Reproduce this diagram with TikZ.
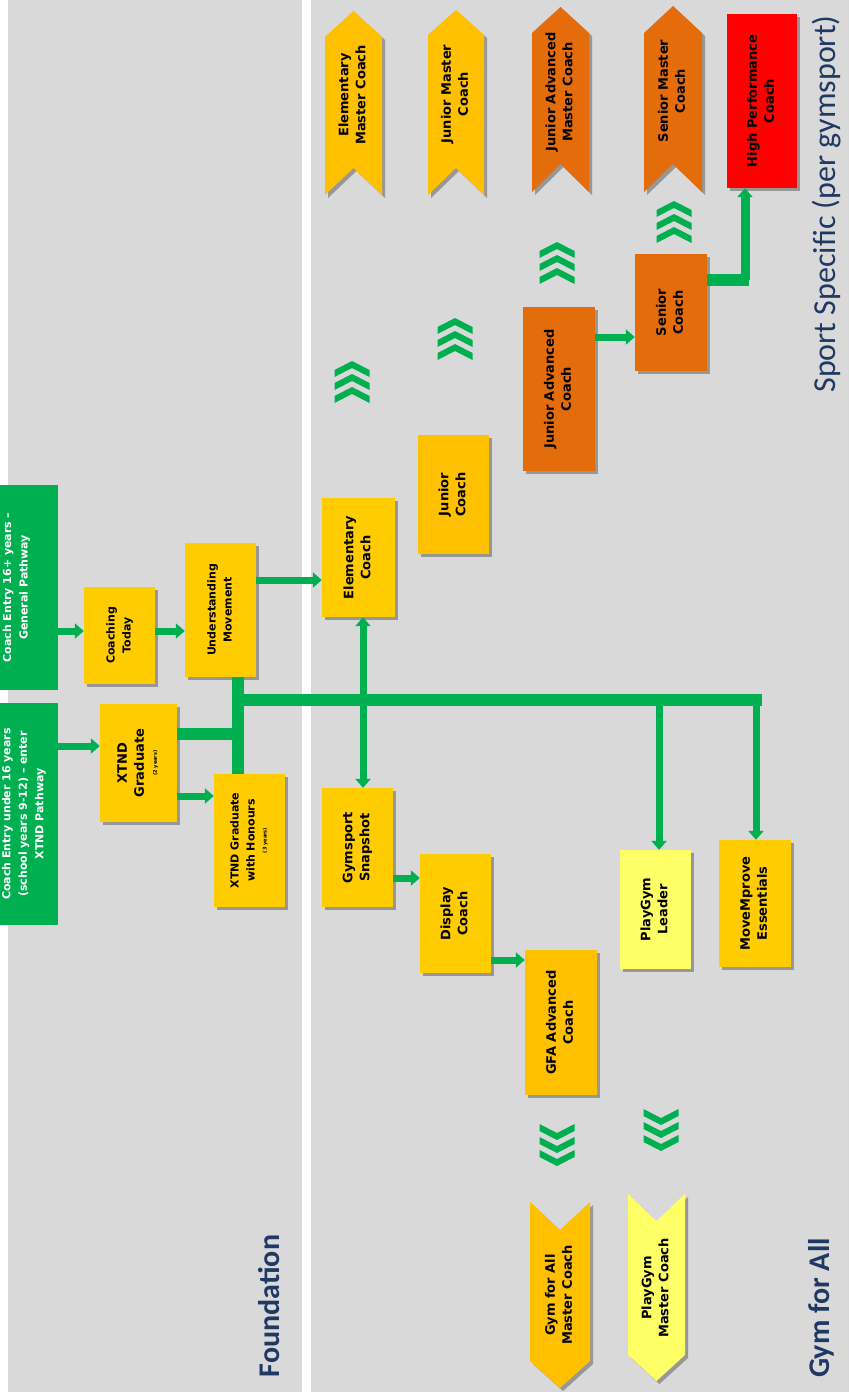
\documentclass[tikz,border=0pt]{standalone}
\usepackage{fontspec}
\setmainfont{DejaVu Sans}
\newfontfamily\titlefont{Carlito}
\usetikzlibrary{arrows.meta,shadows}
\definecolor{panel}{HTML}{D9D9D9}
\definecolor{gold}{HTML}{FFCC00}
\definecolor{amber}{HTML}{FFC000}
\definecolor{orng}{HTML}{E46C0A}
\definecolor{lyel}{HTML}{FFFF66}
\definecolor{hpred}{HTML}{FF0000}
\definecolor{grn}{HTML}{00B050}
\definecolor{navy}{HTML}{1F3864}
\newcommand\rt[1]{\rotatebox{90}{\begin{tabular}{@{}c@{}}#1\end{tabular}}}
\newcommand\yrs[1]{{\fontsize{5}{6}\selectfont #1}}
\newcommand\upchev[2]{\foreach \k in {0,13,26}{\fill[grn] (#1-17.5,#2+\k+9) -- (#1,#2+\k) -- (#1+17.5,#2+\k+9) -- (#1+17.5,#2+\k+16) -- (#1,#2+\k+7) -- (#1-17.5,#2+\k+16) -- cycle;}}
\newcommand\downchev[2]{\foreach \k in {0,13,26}{\fill[grn] (#1-17.5,#2-\k-9) -- (#1,#2-\k) -- (#1+17.5,#2-\k-9) -- (#1+17.5,#2-\k-16) -- (#1,#2-\k-7) -- (#1-17.5,#2-\k-16) -- cycle;}}
\begin{document}
\begin{tikzpicture}[x=1pt,y=-1pt,
  shd/.style={drop shadow={shadow xshift=3pt,shadow yshift=-3pt,opacity=.3,fill=black}},
  box/.style={rectangle,inner sep=0pt,shd,font=\bfseries\fontsize{13}{17}\selectfont},
  sbox/.style={box,font=\bfseries\fontsize{11}{16}\selectfont},
  gbox/.style={rectangle,inner sep=0pt,fill=grn,text=white,font=\bfseries\fontsize{11}{16.5}\selectfont},
  lbl/.style={inner sep=0pt,font=\bfseries\fontsize{13}{17}\selectfont},
  flow/.style={draw=grn,line width=7pt,-{Triangle[width=15pt,length=9pt]}},
  bus/.style={draw=grn,line width=12pt},
  ttl/.style={inner sep=0pt,text=navy}]
\useasboundingbox (0,0) rectangle (849,1395);
\fill[white] (0,0) rectangle (849,1395);
\fill[panel] (8,0) rectangle (302,1392);
\fill[panel] (311,0) rectangle (849,1392);

% entry boxes
\node[gbox,minimum width=57pt,minimum height=205pt] (g16) at (28.5,587.5) {\rt{Coach Entry 16+ years –\\General Pathway}\hspace*{25pt}};
\node[gbox,minimum width=57pt,minimum height=222pt] (g15) at (28.5,814) {\rt{Coach Entry under 16 years\\(school years 9-12) – enter\\XTND Pathway}\hspace*{10pt}};

% foundation boxes
\node[sbox,fill=gold,minimum width=71pt,minimum height=97pt] (ct) at (119.5,635.5) {\rt{Coaching\\Today}};
\node[sbox,fill=gold,minimum width=71pt,minimum height=134pt] (um) at (220.5,610) {\rt{Understanding\\Movement}};
\node[box,fill=gold,minimum width=77pt,minimum height=118pt] (xg) at (138.5,763) {\rt{XTND\\Graduate\\[-4pt]\yrs{(2 years)}}};
\node[sbox,fill=gold,minimum width=71pt,minimum height=133pt] (xh) at (249.5,840.5) {\rt{XTND Graduate\\with Honours\\[-4pt]\yrs{(3 years)}}};

% sport specific / gym for all boxes
\node[box,fill=gold,minimum width=73pt,minimum height=119pt] (ec) at (358.5,557.5) {\rt{Elementary\\Coach}};
\node[box,fill=amber,minimum width=71pt,minimum height=119pt] (jc) at (453.5,494.5) {\rt{Junior\\Coach}};
\node[box,fill=orng,minimum width=72pt,minimum height=164pt] (jac) at (559,389) {\rt{Junior Advanced\\Coach}};
\node[box,fill=orng,minimum width=72pt,minimum height=117pt] (sc) at (671,312.5) {\rt{Senior\\Coach}};
\node[box,fill=hpred,minimum width=70pt,minimum height=174pt] (hp) at (762,101) {\rt{High Performance\\Coach}};
\node[box,fill=gold,minimum width=71pt,minimum height=119pt] (gs) at (357.5,847.5) {\rt{Gymsport\\Snapshot}};
\node[box,fill=gold,minimum width=71pt,minimum height=119pt] (dc) at (455.5,913.5) {\rt{Display\\Coach}};
\node[box,fill=amber,minimum width=72pt,minimum height=145pt] (gfa) at (561,1022.5) {\rt{GFA Advanced\\Coach}};
\node[box,fill=lyel,minimum width=71pt,minimum height=119pt] (pgl) at (655.5,909.5) {\rt{PlayGym\\Leader}};
\node[box,fill=gold,minimum width=72pt,minimum height=127pt] (mme) at (755,903.5) {\rt{MoveMprove\\Essentials}};

% master coach chevrons
\path[fill=amber,shd] (325,37) -- (353.5,11) -- (382,37) -- (382,195) -- (353.5,168) -- (325,195) -- cycle;
\node[lbl] (emc) at (353.5,95) {\rt{Elementary\\Master Coach}};
\path[fill=amber,shd] (428,35) -- (456,10) -- (484,35) -- (484,195) -- (456,168) -- (428,195) -- cycle;
\node[lbl] (jmc) at (456,94) {\rt{Junior Master\\Coach}};
\path[fill=orng,shd] (532,33) -- (560.5,7) -- (589,33) -- (589,192) -- (560.5,164) -- (532,192) -- cycle;
\node[lbl] (jamc) at (560.5,92) {\rt{Junior Advanced\\Master Coach}};
\path[fill=orng,shd] (644,33) -- (673,6) -- (702,33) -- (702,192) -- (673,164) -- (644,192) -- cycle;
\node[lbl] (smc) at (673,91) {\rt{Senior Master\\Coach}};
\path[fill=amber,shd] (530,1202) -- (560,1230) -- (590,1202) -- (590,1361) -- (560,1388) -- (530,1361) -- cycle;
\node[lbl] (gamc) at (560,1295) {\rt{Gym for All\\Master Coach}};
\path[fill=lyel,shd] (628,1194) -- (656.5,1221) -- (685,1194) -- (685,1355) -- (656.5,1381) -- (628,1355) -- cycle;
\node[lbl] (pgmc) at (656.5,1288) {\rt{PlayGym\\Master Coach}};

% progression chevrons
\upchev{352}{361}
\upchev{455}{318}
\upchev{557}{242}
\upchev{674}{201}
\downchev{557}{1166}
\downchev{661}{1151}

% helper coordinates
\coordinate (y631) at (0,631);
\coordinate (y746) at (0,746);
\coordinate (y796) at (0,796);
\coordinate (y580) at (0,580);
\coordinate (y734) at (0,734);
\coordinate (y337) at (0,337);
\coordinate (y878) at (0,878);
\coordinate (y960) at (0,960);
\coordinate (j1) at (238,700);
\coordinate (bend) at (756,700);
\coordinate (b1) at (363,700);
\coordinate (b2) at (659,700);
\coordinate (hpc) at (745,280);

% connectors
\draw[flow] (g16.east |- y631) -- (ct.west |- y631);
\draw[flow] (ct.east |- y631) -- (um.west |- y631);
\draw[flow] (g15.east |- y746) -- (xg.west |- y746);
\draw[flow] (xg.east |- y796) -- (xh.west |- y796);
\draw[flow] (um.east |- y580) -- (ec.west |- y580);
\draw[bus] (xg.east |- y734) -- (j1 |- y734);
\draw[bus] (um.south -| j1) -- (xh.north -| j1);
\draw[bus,line cap=rect] (j1) -- (bend);
\draw[flow] (b1) -- (b1 |- ec.south);
\draw[flow] (b1) -- (b1 |- gs.north);
\draw[flow] (b2) -- (b2 |- pgl.north);
\draw[flow] (bend) -- (bend |- mme.north);
\draw[flow] (jac.east |- y337) -- (sc.west |- y337);
\draw[bus] (sc.east |- hpc) -- ([xshift=4pt]hpc);
\draw[flow,line width=9pt] (hpc) -- (hpc |- hp.south);
\draw[flow] (gs.east |- y878) -- (dc.west |- y878);
\draw[flow] (dc.east |- y960) -- (gfa.west |- y960);

% titles
\node[ttl,font=\titlefont\bfseries\fontsize{30}{36}\selectfont] (fnd) at (269,1306) {\rotatebox{90}{Foundation}};
\node[ttl,font=\titlefont\bfseries\fontsize{30}{36}\selectfont] (gfat) at (821,1308) {\rotatebox{90}{Gym for All}};
\node[ttl,font=\titlefont\fontsize{32}{38}\selectfont] (ssp) at (827,204) {\rotatebox{90}{Sport Specific (per gymsport)}};
\end{tikzpicture}
\end{document}
